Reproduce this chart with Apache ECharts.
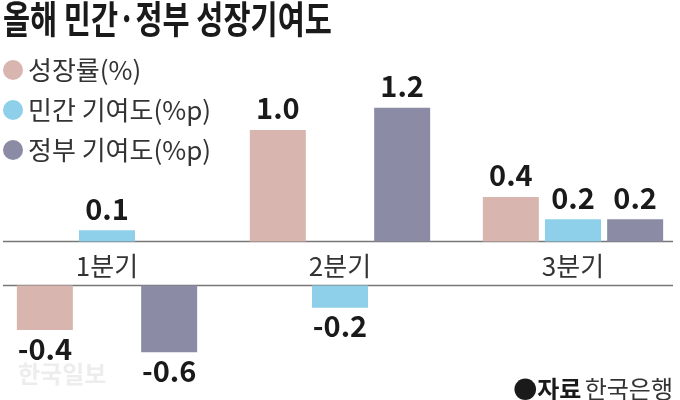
<!DOCTYPE html>
<html>
<head>
<meta charset="utf-8">
<script src="https://cdn.jsdelivr.net/npm/echarts@6/dist/echarts.min.js"></script>
<style>html,body{margin:0;padding:0;background:#fff;}#c{width:680px;height:400px;}</style>
</head>
<body>
<div id="c"></div>
<script>
const categories = ['1분기', '2분기', '3분기'];
const seriesNames = ['성장률(%)', '민간 기여도(%p)', '정부 기여도(%p)'];
const growth = [-0.4, 1.0, 0.4];
const privateContrib = [0.1, -0.2, 0.2];
const govContrib = [-0.6, 1.2, 0.2];
const titleText = '올해 민간·정부 성장기여도';
const sourceLabel = '자료';
const sourceText = '한국은행';
const watermark = '한국일보';

const colors = ['#d9b5b0', '#8ecfe9', '#8b8ba6'];
const FONT = '"Noto Sans CJK KR", "Noto Sans", sans-serif';
const allData = [growth, privateContrib, govContrib];

const chart = echarts.init(document.getElementById('c'), null, {renderer: 'canvas'});

const labelCommon = {
  show: true,
  fontFamily: FONT,
  fontSize: 29,
  fontWeight: 'bold',
  color: '#1a1a1a',
  formatter: p => Number(p.value).toFixed(1)
};

const series = [];
allData.forEach((arr, i) => {
  series.push({
    name: seriesNames[i], type: 'bar', xAxisIndex: 0, yAxisIndex: 0,
    barWidth: 56, barGap: '11%',
    itemStyle: {color: colors[i]},
    label: Object.assign({position: 'top', distance: 7}, labelCommon),
    data: arr.map(v => v >= 0 ? v : null)
  });
  series.push({
    name: seriesNames[i], type: 'bar', xAxisIndex: 1, yAxisIndex: 1,
    barWidth: 56, barGap: '11%',
    itemStyle: {color: colors[i]},
    label: Object.assign({position: 'bottom', distance: 4}, labelCommon),
    data: arr.map(v => v < 0 ? v : null)
  });
});

const option = {
  backgroundColor: '#fff',
  animation: false,
  grid: [
    {left: -9.5, width: 699, top: 96.5, height: 145, outerBoundsMode: 'none', containLabel: false},
    {left: -9.5, width: 699, top: 285.5, height: 78, outerBoundsMode: 'none', containLabel: false}
  ],
  xAxis: [
    {type: 'category', gridIndex: 0, data: categories,
     axisLine: {show: false}, axisTick: {show: false},
     axisLabel: {show: true, margin: 12, fontFamily: FONT, fontSize: 26, color: '#333', lineHeight: 26}},
    {type: 'category', gridIndex: 1, data: categories, position: 'top',
     axisLine: {show: false}, axisTick: {show: false}, axisLabel: {show: false}}
  ],
  yAxis: [
    {type: 'value', gridIndex: 0, min: 0, max: 1.3, show: false, splitLine: {show: false}},
    {type: 'value', gridIndex: 1, min: -0.7, max: 0, show: false, splitLine: {show: false}}
  ],
  legend: {
    data: seriesNames.map(n => ({name: n, icon: 'circle'})),
    orient: 'vertical', left: 3, top: 57, padding: 0,
    itemWidth: 20, itemHeight: 20, itemGap: 14,
    selectedMode: false,
    textStyle: {fontFamily: FONT, fontSize: 26, color: '#333', lineHeight: 26}
  },
  graphic: [
    {type: 'text', left: 3, top: 0, scaleX: 0.775, originX: 0,
     style: {text: titleText, font: 'bold 38px ' + FONT, fill: '#1a1a1a'}},
    {type: 'line', shape: {x1: 3, y1: 241.5, x2: 673, y2: 241.5}, style: {stroke: '#777', lineWidth: 1.5}},
    {type: 'line', shape: {x1: 3, y1: 285.5, x2: 673, y2: 285.5}, style: {stroke: '#777', lineWidth: 1.5}},
    {type: 'text', left: 18, top: 362,
     style: {text: watermark, font: 'bold 24px ' + FONT, fill: '#ededed'}},
    {type: 'text', right: 7, top: 377,
     style: {text: '{b|●' + sourceLabel + '} {n|' + sourceText + '}',
       rich: {b: {fontFamily: FONT, fontSize: 24, fontWeight: 'bold', fill: '#1a1a1a'},
              n: {fontFamily: FONT, fontSize: 24, fill: '#333'}}}}
  ],
  series: series
};
chart.setOption(option);
</script>
</body>
</html>
